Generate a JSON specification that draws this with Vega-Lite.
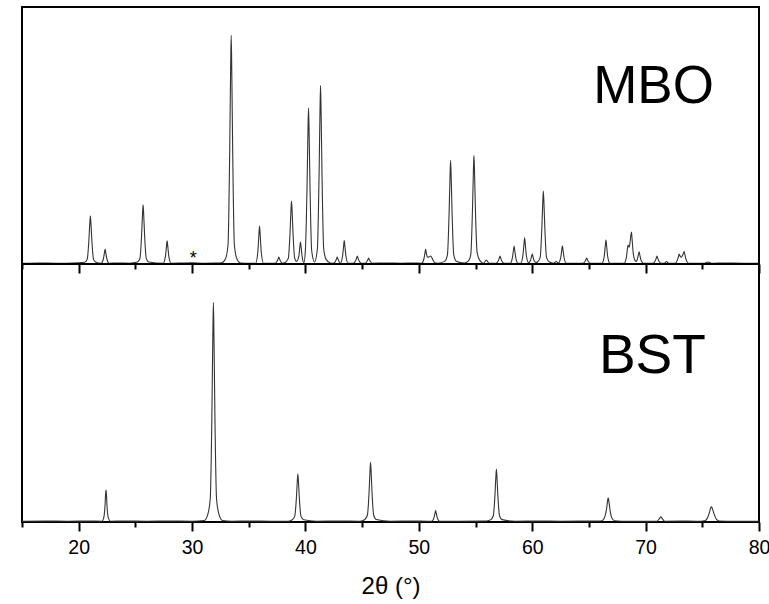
{
  "$schema": "https://vega.github.io/schema/vega-lite/v6.json",
  "padding": {"left": 18, "top": 6, "right": 0, "bottom": 2},
  "background": "white",
  "spacing": 0,
  "bounds": "flush",
  "config": {
    "view": {"stroke": "black", "strokeWidth": 2},
    "font": "Liberation Sans",
    "axis": {"grid": false, "domain": false, "tickColor": "black", "tickWidth": 2, "labelColor": "black", "titleColor": "black"}
  },
  "datasets": {
    "mbo": [
      {"t":15.0,"i":0.3},{"t":16.5,"i":0.4},{"t":18.0,"i":0.3},{"t":19.5,"i":0.35},
      {"t":20.53,"i":0.67},{"t":20.75,"i":1.8},{"t":20.9,"i":9.35},{"t":20.98,"i":15.9},{"t":21.03,"i":18.7},{"t":21.08,"i":15.9},{"t":21.16,"i":9.35},{"t":21.31,"i":1.8},{"t":21.53,"i":0.67},
      {"t":21.98,"i":0.3},{"t":22.18,"i":2.04},{"t":22.27,"i":4.35},{"t":22.33,"i":5.8},{"t":22.39,"i":4.35},{"t":22.48,"i":2.04},{"t":22.68,"i":0.3},
      {"t":23.5,"i":0.35},{"t":24.5,"i":0.3},
      {"t":25.18,"i":0.76},{"t":25.4,"i":2.14},{"t":25.55,"i":11.5},{"t":25.63,"i":19.55},{"t":25.68,"i":23},{"t":25.73,"i":19.55},{"t":25.81,"i":11.5},{"t":25.96,"i":2.14},{"t":26.18,"i":0.76},
      {"t":27.45,"i":0.3},{"t":27.65,"i":3.0},{"t":27.74,"i":6.75},{"t":27.8,"i":9},{"t":27.86,"i":6.75},{"t":27.95,"i":3.0},{"t":28.15,"i":0.3},
      {"t":29.0,"i":0.35},{"t":30.0,"i":0.45},{"t":31.0,"i":0.3},{"t":32.0,"i":0.35},{"t":32.6,"i":0.5},
      {"t":32.95,"i":2.08},{"t":33.17,"i":7.42},{"t":33.32,"i":44.5},{"t":33.4,"i":75.65},{"t":33.45,"i":89},{"t":33.5,"i":75.65},{"t":33.58,"i":44.5},{"t":33.73,"i":7.42},{"t":33.95,"i":2.08},
      {"t":34.3,"i":0.4},{"t":35.0,"i":0.3},
      {"t":35.6,"i":0.3},{"t":35.8,"i":4.74},{"t":35.89,"i":11.1},{"t":35.95,"i":14.8},{"t":36.01,"i":11.1},{"t":36.1,"i":4.74},{"t":36.3,"i":0.3},
      {"t":37.0,"i":0.3},
      {"t":37.3,"i":0.3},{"t":37.5,"i":1.11},{"t":37.59,"i":2.0},{"t":37.65,"i":2.7},{"t":37.71,"i":2.0},{"t":37.8,"i":1.11},{"t":38.0,"i":0.3},
      {"t":38.27,"i":0.79},{"t":38.49,"i":2.26},{"t":38.64,"i":12.25},{"t":38.72,"i":20.8},{"t":38.77,"i":24.5},{"t":38.82,"i":20.8},{"t":38.9,"i":12.25},{"t":39.05,"i":2.26},
      {"t":39.21,"i":1.0},{"t":39.41,"i":2.85},{"t":39.5,"i":6.4},{"t":39.56,"i":8.5},{"t":39.62,"i":6.4},{"t":39.71,"i":2.85},
      {"t":39.86,"i":0.5},{"t":39.99,"i":5.16},{"t":40.14,"i":30.35},{"t":40.22,"i":51.6},{"t":40.27,"i":60.7},{"t":40.32,"i":51.6},{"t":40.4,"i":30.35},{"t":40.55,"i":5.16},
      {"t":40.8,"i":0.8},{"t":41.05,"i":5.85},{"t":41.2,"i":34.7},{"t":41.28,"i":59},{"t":41.33,"i":69.4},{"t":41.38,"i":59},{"t":41.46,"i":34.7},{"t":41.61,"i":5.85},{"t":41.83,"i":1.69},
      {"t":42.2,"i":0.4},
      {"t":42.45,"i":0.3},{"t":42.65,"i":1.11},{"t":42.74,"i":2.0},{"t":42.8,"i":2.7},{"t":42.86,"i":2.0},{"t":42.95,"i":1.11},
      {"t":43.07,"i":0.3},{"t":43.27,"i":3.03},{"t":43.36,"i":6.8},{"t":43.42,"i":9.1},{"t":43.48,"i":6.8},{"t":43.57,"i":3.03},{"t":43.77,"i":0.3},
      {"t":44.22,"i":0.3},{"t":44.42,"i":1.23},{"t":44.51,"i":2.33},{"t":44.57,"i":3.1},{"t":44.63,"i":2.33},{"t":44.72,"i":1.23},{"t":44.92,"i":0.3},
      {"t":45.22,"i":0.3},{"t":45.42,"i":0.99},{"t":45.51,"i":1.73},{"t":45.57,"i":2.3},{"t":45.63,"i":1.73},{"t":45.72,"i":0.99},{"t":45.92,"i":0.3},
      {"t":47.0,"i":0.35},{"t":48.5,"i":0.3},{"t":49.5,"i":0.35},
      {"t":50.25,"i":0.3},{"t":50.45,"i":2.04},{"t":50.54,"i":4.35},{"t":50.6,"i":5.8},{"t":50.66,"i":4.35},{"t":50.75,"i":2.6},{"t":50.9,"i":2.8},{"t":51.05,"i":3.1},{"t":51.2,"i":2.0},{"t":51.4,"i":0.5},{"t":51.7,"i":0.3},
      {"t":52.3,"i":1.11},{"t":52.52,"i":3.52},{"t":52.67,"i":20.15},{"t":52.75,"i":34.26},{"t":52.8,"i":40.3},{"t":52.85,"i":34.26},{"t":52.93,"i":20.15},{"t":53.08,"i":3.52},{"t":53.3,"i":1.11},
      {"t":54.0,"i":0.4},
      {"t":54.36,"i":1.15},{"t":54.58,"i":3.68},{"t":54.73,"i":21.15},{"t":54.81,"i":35.96},{"t":54.86,"i":42.3},{"t":54.91,"i":35.96},{"t":54.99,"i":21.15},{"t":55.14,"i":4.5},{"t":55.36,"i":1.5},
      {"t":55.7,"i":0.3},{"t":55.95,"i":1.5},{"t":56.2,"i":0.3},
      {"t":56.81,"i":0.3},{"t":57.01,"i":1.23},{"t":57.1,"i":2.33},{"t":57.16,"i":3.1},{"t":57.22,"i":2.33},{"t":57.31,"i":1.23},{"t":57.51,"i":0.3},
      {"t":58.05,"i":0.3},{"t":58.25,"i":2.4},{"t":58.34,"i":5.25},{"t":58.4,"i":7},{"t":58.46,"i":5.25},{"t":58.55,"i":2.4},{"t":58.75,"i":0.3},
      {"t":58.98,"i":0.3},{"t":59.18,"i":3.36},{"t":59.27,"i":7.65},{"t":59.33,"i":10.2},{"t":59.39,"i":7.65},{"t":59.48,"i":3.36},{"t":59.68,"i":0.5},
      {"t":59.85,"i":1.47},{"t":59.94,"i":2.93},{"t":60.0,"i":3.9},{"t":60.06,"i":2.93},{"t":60.15,"i":1.47},{"t":60.35,"i":0.6},
      {"t":60.48,"i":0.87},{"t":60.7,"i":2.57},{"t":60.85,"i":14.2},{"t":60.93,"i":24.14},{"t":60.98,"i":28.4},{"t":61.03,"i":24.14},{"t":61.11,"i":14.2},{"t":61.26,"i":2.57},{"t":61.48,"i":0.87},
      {"t":61.9,"i":0.3},{"t":62.1,"i":1.0},{"t":62.3,"i":0.4},
      {"t":62.51,"i":2.43},{"t":62.6,"i":5.33},{"t":62.66,"i":7.1},{"t":62.72,"i":5.33},{"t":62.81,"i":2.43},{"t":63.01,"i":0.3},
      {"t":64.0,"i":0.3},
      {"t":64.45,"i":0.3},{"t":64.65,"i":0.99},{"t":64.74,"i":1.73},{"t":64.8,"i":2.3},{"t":64.86,"i":1.73},{"t":64.95,"i":0.99},{"t":65.15,"i":0.3},
      {"t":66.15,"i":0.3},{"t":66.35,"i":3.09},{"t":66.44,"i":6.98},{"t":66.5,"i":9.3},{"t":66.56,"i":6.98},{"t":66.65,"i":3.09},{"t":66.85,"i":0.3},
      {"t":67.6,"i":0.3},
      {"t":68.1,"i":0.3},{"t":68.3,"i":2.5},{"t":68.4,"i":6.0},{"t":68.46,"i":7.4},{"t":68.55,"i":6.5},{"t":68.63,"i":8.5},{"t":68.75,"i":12.4},{"t":68.81,"i":9.5},{"t":68.9,"i":4.5},{"t":69.05,"i":1.5},{"t":69.2,"i":1.0},{"t":69.3,"i":2.4},{"t":69.37,"i":3.8},{"t":69.43,"i":4.7},{"t":69.49,"i":3.5},{"t":69.58,"i":1.7},{"t":69.8,"i":0.3},
      {"t":70.65,"i":0.3},{"t":70.85,"i":1.23},{"t":70.94,"i":2.33},{"t":71.0,"i":3.1},{"t":71.06,"i":2.33},{"t":71.15,"i":1.23},{"t":71.35,"i":0.3},
      {"t":71.65,"i":0.3},{"t":71.84,"i":1.0},{"t":72.05,"i":0.3},
      {"t":72.6,"i":0.3},{"t":72.8,"i":1.5},{"t":72.9,"i":3.0},{"t":72.96,"i":3.9},{"t":73.05,"i":3.0},{"t":73.15,"i":2.6},{"t":73.3,"i":3.8},{"t":73.4,"i":4.8},{"t":73.46,"i":3.7},{"t":73.55,"i":2.0},{"t":73.8,"i":0.3},
      {"t":75.2,"i":0.3},{"t":75.5,"i":0.8},{"t":75.8,"i":0.3},{"t":77.0,"i":0.35},{"t":78.5,"i":0.3},{"t":80.0,"i":0.3}
    ],
    "bst": [
      {"t":15.0,"i":0.3},{"t":17.0,"i":0.35},{"t":19.0,"i":0.3},{"t":21.0,"i":0.35},
      {"t":22.05,"i":0.3},{"t":22.2,"i":1.5},{"t":22.32,"i":6.2},{"t":22.37,"i":10.5},{"t":22.41,"i":12.4},{"t":22.45,"i":10.5},{"t":22.5,"i":6.2},{"t":22.62,"i":1.5},{"t":22.8,"i":0.3},
      {"t":24.0,"i":0.35},{"t":26.0,"i":0.3},{"t":28.0,"i":0.35},{"t":30.0,"i":0.3},
      {"t":31.08,"i":0.6},{"t":31.38,"i":2.85},{"t":31.6,"i":8.8},{"t":31.75,"i":42.55},{"t":31.83,"i":72.3},{"t":31.88,"i":85.1},{"t":31.93,"i":72.3},{"t":32.01,"i":42.55},{"t":32.16,"i":8.8},{"t":32.38,"i":2.85},{"t":32.68,"i":0.6},
      {"t":33.5,"i":0.3},{"t":35.0,"i":0.35},{"t":37.0,"i":0.3},{"t":38.5,"i":0.3},
      {"t":38.83,"i":0.86},{"t":39.05,"i":2.16},{"t":39.2,"i":9.3},{"t":39.28,"i":15.8},{"t":39.33,"i":18.6},{"t":39.38,"i":15.8},{"t":39.46,"i":9.3},{"t":39.61,"i":2.16},{"t":39.83,"i":0.86},
      {"t":41.0,"i":0.3},{"t":43.0,"i":0.35},{"t":44.8,"i":0.3},
      {"t":45.24,"i":0.99},{"t":45.46,"i":2.61},{"t":45.61,"i":11.55},{"t":45.69,"i":19.6},{"t":45.74,"i":23.1},{"t":45.79,"i":19.6},{"t":45.87,"i":11.55},{"t":46.02,"i":2.61},{"t":46.24,"i":0.99},
      {"t":47.5,"i":0.3},{"t":49.5,"i":0.35},{"t":50.8,"i":0.3},
      {"t":51.13,"i":0.3},{"t":51.33,"i":1.6},{"t":51.42,"i":3.3},{"t":51.48,"i":4.4},{"t":51.54,"i":3.3},{"t":51.63,"i":1.6},{"t":51.83,"i":0.3},
      {"t":53.5,"i":0.3},{"t":55.5,"i":0.35},{"t":56.0,"i":0.4},
      {"t":56.34,"i":0.91},{"t":56.56,"i":2.34},{"t":56.71,"i":10.2},{"t":56.79,"i":17.34},{"t":56.84,"i":20.4},{"t":56.89,"i":17.34},{"t":56.97,"i":10.2},{"t":57.12,"i":2.34},{"t":57.34,"i":0.91},
      {"t":58.5,"i":0.3},{"t":60.5,"i":0.35},{"t":62.5,"i":0.3},{"t":64.5,"i":0.35},{"t":65.8,"i":0.4},
      {"t":66.15,"i":0.5},{"t":66.4,"i":2.0},{"t":66.57,"i":5.5},{"t":66.65,"i":8.3},{"t":66.7,"i":9.4},{"t":66.76,"i":8.0},{"t":66.85,"i":5.0},{"t":67.0,"i":1.8},{"t":67.25,"i":0.5},
      {"t":68.5,"i":0.3},{"t":70.5,"i":0.3},
      {"t":71.0,"i":0.3},{"t":71.2,"i":1.2},{"t":71.34,"i":2.0},{"t":71.5,"i":1.1},{"t":71.7,"i":0.3},
      {"t":73.0,"i":0.35},{"t":74.5,"i":0.3},{"t":75.2,"i":0.5},
      {"t":75.45,"i":1.5},{"t":75.65,"i":4.0},{"t":75.75,"i":5.6},{"t":75.81,"i":5.9},{"t":75.9,"i":5.0},{"t":76.05,"i":3.0},{"t":76.25,"i":1.0},{"t":76.5,"i":0.4},
      {"t":78.0,"i":0.3},{"t":80.0,"i":0.3}
    ],
    "labels": [
      {"panel":"MBO","text":"MBO"},
      {"panel":"BST","text":"BST"}
    ]
  },
  "vconcat": [
    {
      "width": 737,
      "height": 257,
      "layer": [
        {
          "data": {"name": "mbo"},
          "mark": {"type": "line", "color": "#333333", "strokeWidth": 1.1, "interpolate": "monotone"},
          "encoding": {
            "x": {"field": "t", "type": "quantitative", "scale": {"domain": [15, 80], "nice": false, "zero": false},
                  "axis": {"values": [15,20,25,30,35,40,45,50,55,60,65,70,75,80], "labels": false, "title": null,
                           "tickSize": {"condition": {"test": "datum.value % 10 === 0", "value": 9}, "value": 5}}},
            "y": {"field": "i", "type": "quantitative", "scale": {"domain": [0, 100], "nice": false}, "axis": null}
          }
        },
        {
          "data": {"name": "labels"},
          "transform": [{"filter": "datum.panel === 'MBO'"}],
          "mark": {"type": "text", "fontSize": 53, "align": "center", "baseline": "alphabetic", "color": "black"},
          "encoding": {
            "x": {"datum": 70.7, "type": "quantitative"},
            "y": {"datum": 62.6, "type": "quantitative"},
            "text": {"field": "text"}
          }
        },
        {
          "data": {"values": [{"mark": "*"}]},
          "mark": {"type": "text", "fontSize": 18, "align": "center", "baseline": "alphabetic", "color": "black"},
          "encoding": {
            "x": {"datum": 30.1, "type": "quantitative"},
            "y": {"datum": 0, "type": "quantitative"},
            "text": {"field": "mark"}
          }
        }
      ]
    },
    {
      "width": 737,
      "height": 258,
      "layer": [
        {
          "data": {"name": "bst"},
          "mark": {"type": "line", "color": "#333333", "strokeWidth": 1.1, "interpolate": "monotone"},
          "encoding": {
            "x": {"field": "t", "type": "quantitative", "scale": {"domain": [15, 80], "nice": false, "zero": false},
                  "axis": {"values": [15,20,25,30,35,40,45,50,55,60,65,70,75,80],
                           "labelExpr": "datum.value % 10 === 0 ? datum.label : ''",
                           "tickSize": {"condition": {"test": "datum.value % 10 === 0", "value": 9}, "value": 5},
                           "labelFontSize": 19.5, "labelPadding": 7, "labelFlush": false, "labelOverlap": false,
                           "title": "2θ (°)", "titleFontSize": 24, "titleFontWeight": "normal", "titlePadding": 18}},
            "y": {"field": "i", "type": "quantitative", "scale": {"domain": [0, 100], "nice": false}, "axis": null}
          }
        },
        {
          "data": {"name": "labels"},
          "transform": [{"filter": "datum.panel === 'BST'"}],
          "mark": {"type": "text", "fontSize": 55, "align": "center", "baseline": "alphabetic", "color": "black"},
          "encoding": {
            "x": {"datum": 70.6, "type": "quantitative"},
            "y": {"datum": 57.8, "type": "quantitative"},
            "text": {"field": "text"}
          }
        }
      ]
    }
  ]
}
